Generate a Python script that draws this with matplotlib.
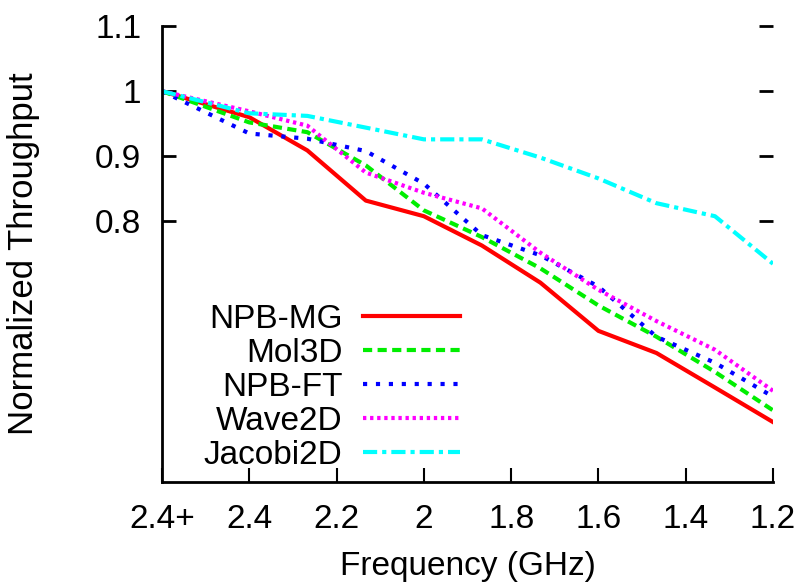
import matplotlib
matplotlib.use('Agg')
import matplotlib.pyplot as plt
from matplotlib.ticker import FormatStrFormatter

plt.rcParams['font.family'] = ['Liberation Sans', 'DejaVu Sans']

# frequency steps (GHz); the turbo point "2.4+" is drawn one tick-step left of 2.4
freq = [2.6, 2.4, 2.267, 2.133, 2.0, 1.867, 1.733, 1.6, 1.467, 1.333, 1.2]
xtick_pos = [2.6, 2.4, 2.2, 2.0, 1.8, 1.6, 1.4, 1.2]
xtick_labels = ['2.4+', '2.4', '2.2', '2', '1.8', '1.6', '1.4', '1.2']
ytick_pos = [0.8, 0.9, 1.0, 1.1]

npb_mg = [1.0, 0.960, 0.909, 0.832, 0.808, 0.763, 0.706, 0.632, 0.598, 0.545, 0.492]
mol3d = [1.0, 0.952, 0.937, 0.886, 0.817, 0.776, 0.728, 0.671, 0.623, 0.569, 0.510]
npb_ft = [1.0, 0.935, 0.927, 0.908, 0.858, 0.779, 0.748, 0.700, 0.623, 0.583, 0.531]
wave2d = [1.0, 0.969, 0.947, 0.875, 0.844, 0.820, 0.752, 0.695, 0.647, 0.603, 0.540]
jacobi2d = [1.0, 0.966, 0.962, 0.944, 0.926, 0.926, 0.898, 0.866, 0.828, 0.808, 0.735]

fig = plt.figure(figsize=(7.95, 5.85), dpi=100)
ax = fig.add_axes([162/795, 1-482/585, 611/795, 456/585])

lw = 3
ax.plot(freq, npb_mg, color='#ff0000', lw=lw, linestyle='-', label='NPB-MG')
ax.plot(freq, mol3d, color='#00ee00', lw=lw, linestyle=(0, (2.2, 1.3)), label='Mol3D')
ax.plot(freq, npb_ft, color='#0000ff', lw=lw, linestyle=(0, (1.0, 2.1)), label='NPB-FT')
ax.plot(freq, wave2d, color='#ff00ff', lw=lw, linestyle=(0, (0.8, 0.9)), label='Wave2D')
ax.plot(freq, jacobi2d, color='#00ffff', lw=lw, linestyle=(0, (3.4, 1.2, 1.0, 1.2)), label='Jacobi2D')

ax.set_xlim(2.6, 1.2)
ax.set_ylim(0.4, 1.1)
ax.set_xticks(xtick_pos)
ax.set_xticklabels(xtick_labels)
ax.set_yticks(ytick_pos)
ax.yaxis.set_major_formatter(FormatStrFormatter('%g'))

for s in ['top', 'right']:
    ax.spines[s].set_visible(False)
for s in ['left', 'bottom']:
    ax.spines[s].set_linewidth(2)

ax.tick_params(axis='y', direction='in', length=10, width=2, right=True, left=True,
               labelsize=24, pad=15)
ax.tick_params(axis='x', direction='in', length=10, width=1.5, labelsize=24, pad=16)

ax.set_xlabel('Frequency (GHz)', fontsize=24)
ax.set_ylabel('Normalized Throughput', fontsize=25)
ax.xaxis.set_label_coords(0.5, -0.151)
ax.yaxis.set_label_coords(-0.2, 0.5)

ax.legend(loc='lower right', bbox_to_anchor=((460-162)/611, (482-471)/456),
          frameon=False, markerfirst=False, fontsize=24, handlelength=2.9,
          handletextpad=0.63, labelspacing=0.09, borderpad=0, borderaxespad=0)

fig.savefig('out.png', dpi=100)
